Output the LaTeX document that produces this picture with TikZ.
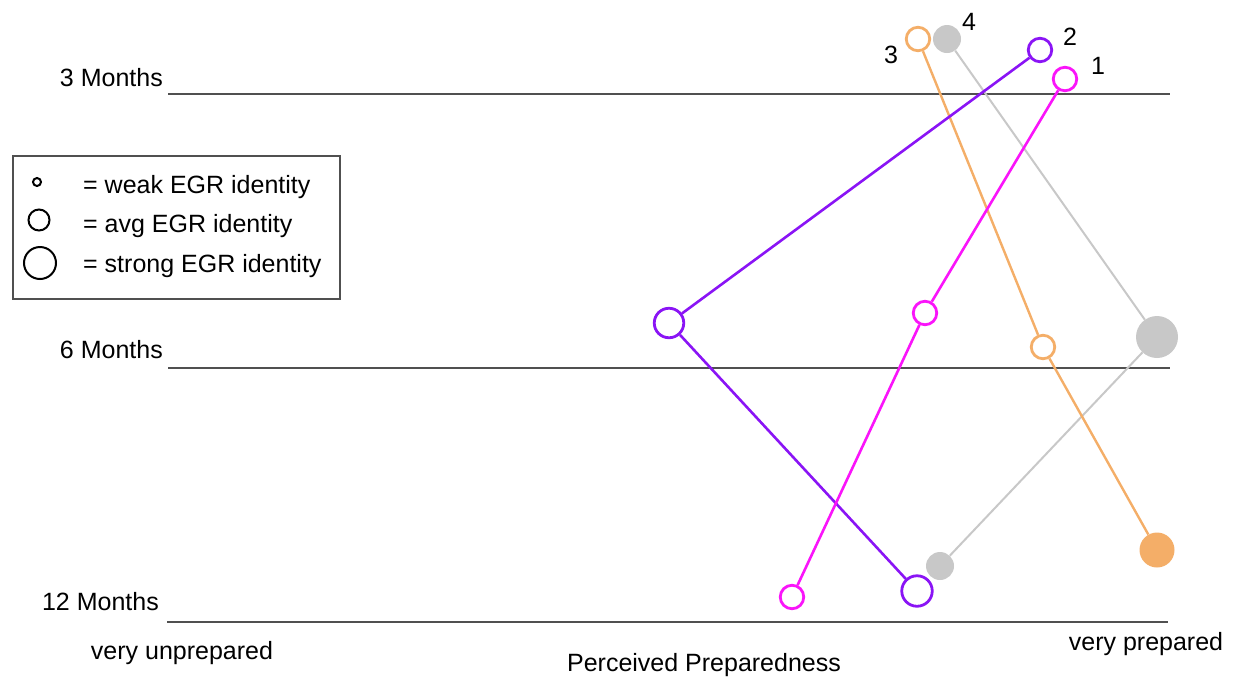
\documentclass[tikz,border=0pt]{standalone}
\usepackage{fontspec}
\setmainfont{Liberation Sans}
\definecolor{cpurple}{RGB}{138,20,245}
\definecolor{cmagenta}{RGB}{250,20,250}
\definecolor{corange}{RGB}{244,174,104}
\definecolor{cgray}{RGB}{200,200,200}
\definecolor{caxis}{RGB}{80,80,80}
\tikzset{
  axisline/.style={draw=caxis, line width=2},
  lbl/.style={inner sep=0, font=\fontsize{25}{30}\selectfont},
  hollow/.style={circle, draw=#1, fill=white, line width=2.8, inner sep=0},
  solid/.style={circle, fill=#1, inner sep=0},
  legc/.style={circle, draw=black, line width=2, inner sep=0},
}
\begin{document}
\begin{tikzpicture}[x=1pt, y=-1pt]
\useasboundingbox (0,0) rectangle (1238,678);
% time lines
\coordinate (l3a) at (168,94);  \coordinate (l3b) at (1170,94);
\coordinate (l6a) at (168,368); \coordinate (l6b) at (1170,368);
\coordinate (l12a) at (167,622); \coordinate (l12b) at (1168,622);
\draw[axisline] (l3a) -- (l3b);
\draw[axisline] (l6a) -- (l6b);
\draw[axisline] (l12a) -- (l12b);
\node[lbl, anchor=base east] (t3) at (163,86) {3 Months};
\node[lbl, anchor=base east] (t6) at (163,358) {6 Months};
\node[lbl, anchor=base east] (t12) at (159,610) {12 Months};
\node[lbl, anchor=base] (vu) at (182,659) {very unprepared};
\node[lbl, anchor=base] (pp) at (704,671) {Perceived Preparedness};
\node[lbl, anchor=base] (vp) at (1146,650) {very prepared};
% legend
\node[draw=caxis, line width=1.5, minimum width=327, minimum height=143, anchor=north west, inner sep=0] (legend) at (12,155) {};
\node[legc, minimum size=8] (ls) at (37,182) {};
\node[legc, minimum size=21] (lm) at (39,220) {};
\node[legc, minimum size=32] (ll) at (40,263) {};
\node[lbl, anchor=base west] (lts) at (83,193) {= weak EGR identity};
\node[lbl, anchor=base west] (ltm) at (83,232) {= avg EGR identity};
\node[lbl, anchor=base west] (ltl) at (83,272) {= strong EGR identity};
% participant 4 (gray)
\node[solid=cgray, minimum size=28] (p4a) at (947,39) {};
\node[solid=cgray, minimum size=42] (p4b) at (1157,337) {};
\node[solid=cgray, minimum size=28] (p4c) at (940,566) {};
\draw[cgray, line width=2] (p4a) -- (p4b) -- (p4c);
% participant 3 (orange)
\node[hollow=corange, minimum size=23.5] (p3a) at (918,39) {};
\node[hollow=corange, minimum size=23.5] (p3b) at (1043,347) {};
\node[solid=corange, minimum size=35] (p3c) at (1157,550) {};
\draw[corange, line width=2.4] (p3a) -- (p3b) -- (p3c);
% participant 2 (purple)
\node[hollow=cpurple, minimum size=23.5] (p2a) at (1040,50) {};
\node[hollow=cpurple, minimum size=29.5] (p2b) at (669,323) {};
\node[hollow=cpurple, minimum size=30.5] (p2c) at (917,591) {};
\draw[cpurple, line width=2.6] (p2a) -- (p2b) -- (p2c);
% participant 1 (magenta)
\node[hollow=cmagenta, minimum size=23.5] (p1a) at (1065,79) {};
\node[hollow=cmagenta, minimum size=23.5] (p1b) at (925,313) {};
\node[hollow=cmagenta, minimum size=23.5] (p1c) at (792,597) {};
\draw[cmagenta, line width=2.6] (p1a) -- (p1b) -- (p1c);
% participant numbers
\node[lbl] (n4) at (969,22) {4};
\node[lbl] (n2) at (1070,37) {2};
\node[lbl] (n1) at (1098,66) {1};
\node[lbl] (n3) at (891,55) {3};
\end{tikzpicture}
\end{document}
